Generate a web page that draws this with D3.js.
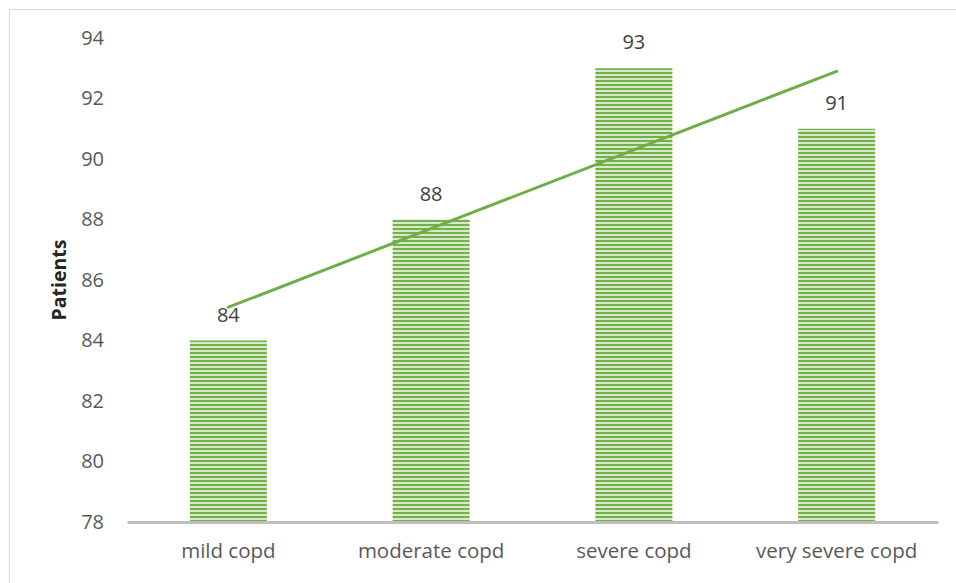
<!DOCTYPE html>
<html><head><meta charset="utf-8">
<script src="https://cdn.jsdelivr.net/npm/d3@7"></script>
<style>
body{margin:0;background:#fff;}
svg{display:block;font-family:"Open Sans",sans-serif;}
</style></head>
<body>
<svg id="chart" width="956" height="583"></svg>
<script>
const categories = ["mild copd","moderate copd","severe copd","very severe copd"];
const values = [84, 88, 93, 91];
const yTicks = [78,80,82,84,86,88,90,92,94];
const yTitle = "Patients";

const FONT = "'Open Sans', sans-serif";
const svg = d3.select("#chart");
const W = 956, H = 583;
const m = {left:127, right:18, top:38, bottom:61};

svg.append("rect").attr("x",9.5).attr("y",9.5).attr("width",W).attr("height",H)
  .attr("fill","#fff").attr("stroke","#d9d9d9").attr("stroke-width",1);

const defs = svg.append("defs");
const pat = defs.append("pattern").attr("id","stripes").attr("patternUnits","userSpaceOnUse")
  .attr("width",8).attr("height",4);
pat.append("rect").attr("width",8).attr("height",4).attr("fill","#d6eac8");
pat.append("rect").attr("y",0).attr("width",8).attr("height",2).attr("fill","#74b04b");

const x = d3.scaleBand().domain(categories).range([m.left, W-m.right]).paddingInner(0.62).paddingOuter(0.31);
const y = d3.scaleLinear().domain([78,94]).range([H-m.bottom, m.top]);

// y tick labels
const yAxis = svg.append("g").attr("transform",`translate(${m.left-23},0)`)
  .call(d3.axisLeft(y).tickValues(yTicks).tickSize(0).tickPadding(0));
yAxis.select(".domain").remove();
yAxis.selectAll("text").attr("font-size",20).attr("fill","#595959").attr("font-family",FONT);

// bars
svg.append("g").selectAll("rect").data(values).join("rect")
  .attr("x",(d,i)=>x(categories[i]))
  .attr("y",d=>y(d))
  .attr("width",x.bandwidth())
  .attr("height",d=>y(78)-y(d))
  .attr("fill","url(#stripes)");

// x axis
const xAxis = svg.append("g").attr("transform",`translate(0,${H-m.bottom})`)
  .call(d3.axisBottom(x).tickSize(0).tickPadding(21));
xAxis.select(".domain").attr("stroke","#bfbfbf").attr("stroke-width",3);
xAxis.selectAll("text").attr("font-size",20.5).attr("fill","#595959").attr("font-family",FONT);

// data labels
svg.append("g").selectAll("text").data(values).join("text")
  .attr("x",(d,i)=>x(categories[i])+x.bandwidth()/2)
  .attr("y",d=>y(d)-19)
  .attr("text-anchor","middle")
  .attr("font-size",20).attr("fill","#404040")
  .text(d=>d);

// linear trendline (least squares over category index)
const n = values.length;
const xs = values.map((d,i)=>i+1);
const mx = d3.mean(xs), my = d3.mean(values);
const slope = d3.sum(xs.map((xi,i)=>(xi-mx)*(values[i]-my))) / d3.sum(xs.map(xi=>(xi-mx)**2));
const icpt = my - slope*mx;
const trend = xs.map(xi=>icpt+slope*xi);
const cx = i => x(categories[i])+x.bandwidth()/2;
svg.append("line")
  .attr("x1",cx(0)).attr("y1",y(trend[0]))
  .attr("x2",cx(n-1)).attr("y2",y(trend[n-1]))
  .attr("stroke","#70ad47").attr("stroke-width",3).attr("stroke-linecap","round");

// y title
svg.append("text")
  .attr("transform",`translate(66,${(m.top+H-m.bottom)/2}) rotate(-90)`)
  .attr("text-anchor","middle")
  .attr("font-size",19.5).attr("font-weight","bold").attr("fill","#262626")
  .text(yTitle);
</script>
</body></html>
